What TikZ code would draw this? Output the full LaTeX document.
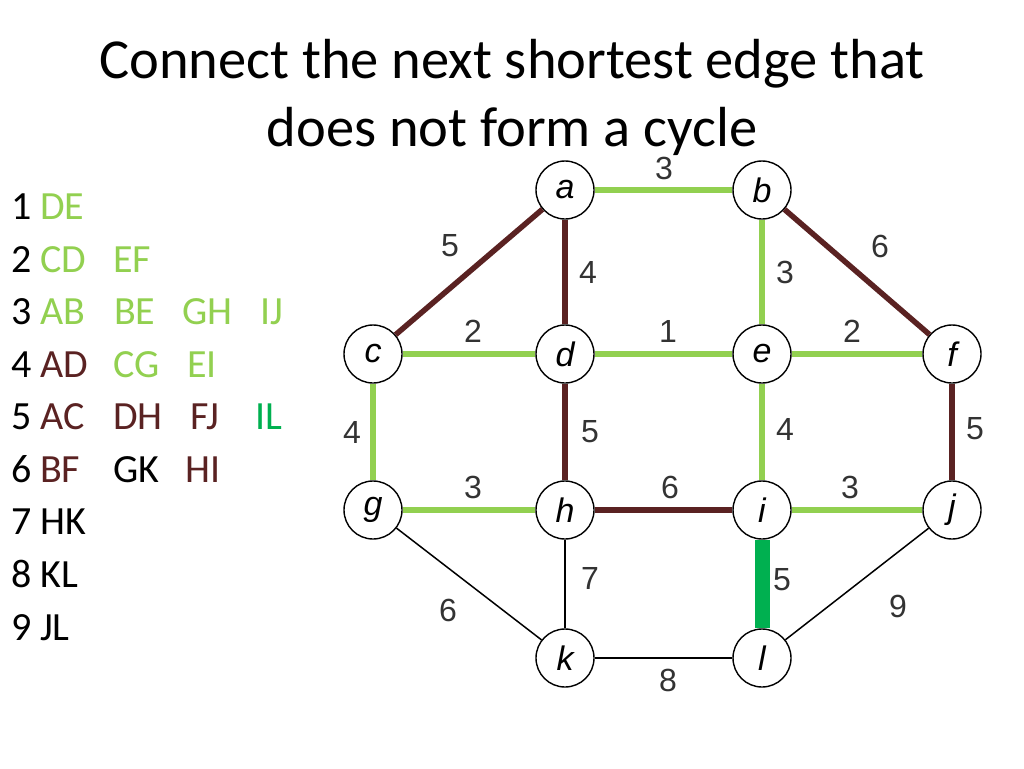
\documentclass[tikz,border=0pt]{standalone}
\usepackage{fontspec}
\setmainfont{Carlito}
\newfontfamily\arialf{Liberation Sans}
\definecolor{lgreen}{HTML}{92D050}
\definecolor{brownc}{HTML}{5A2222}
\definecolor{bgreen}{HTML}{00B050}
\definecolor{labgray}{HTML}{333333}
\begin{document}
\begin{tikzpicture}[x=1pt,y=-1pt,
  vert/.style={circle,draw=black,line width=1.4pt,fill=white,minimum size=58pt,inner sep=0pt,font=\arialf\itshape\fontsize{34}{34}\selectfont},
  elab/.style={font=\arialf\fontsize{32}{32}\selectfont,text=labgray,inner sep=0pt},
  lst/.style={anchor=base west,font=\fontsize{40}{40}\selectfont,inner sep=0pt},
  acc/.style={line width=5.5pt,lgreen},
  rej/.style={line width=5.5pt,brownc},
  cur/.style={line width=15pt,bgreen},
  rest/.style={line width=1.5pt,black}]
\useasboundingbox (0,0) rectangle (1024,768);
\node[font=\fontsize{56.5}{68}\selectfont,align=center,inner sep=0pt] (title) at (512,97) {Connect the next shortest edge that\\does not form a cycle};
% list
\foreach \n/\y in {1/219,2/272,3/324,4/377,5/429,6/482,7/534,8/587,9/640}{
  \node[lst] (n\n) at (11,\y) {\n};
}
\node[lst,text=lgreen] (l1a) at (40,219) {DE};
\node[lst,text=lgreen] (l2a) at (40,272) {CD};
\node[lst,text=lgreen] (l2b) at (113,272) {EF};
\node[lst,text=lgreen] (l3a) at (40,324) {AB};
\node[lst,text=lgreen] (l3b) at (114,324) {BE};
\node[lst,text=lgreen] (l3c) at (182,324) {GH};
\node[lst,text=lgreen] (l3d) at (260,324) {IJ};
\node[lst,text=brownc] (l4a) at (40,377) {AD};
\node[lst,text=lgreen] (l4b) at (113,377) {CG};
\node[lst,text=lgreen] (l4c) at (187,377) {EI};
\node[lst,text=brownc] (l5a) at (40,429) {AC};
\node[lst,text=brownc] (l5b) at (113,429) {DH};
\node[lst,text=brownc] (l5c) at (190,429) {FJ};
\node[lst,text=bgreen] (l5d) at (255,429) {IL};
\node[lst,text=brownc] (l6a) at (40,482) {BF};
\node[lst] (l6b) at (113,482) {GK};
\node[lst,text=brownc] (l6c) at (185,482) {HI};
\node[lst] (l7a) at (40,534) {HK};
\node[lst] (l8a) at (40,587) {KL};
\node[lst] (l9a) at (40,640) {JL};
% vertices
\node[vert] (a) at (565,190) {a};
\node[vert] (b) at (762,190) {b};
\node[vert] (c) at (373,354) {c};
\node[vert] (d) at (565,354) {d};
\node[vert] (e) at (762,354) {e};
\node[vert] (f) at (952,354) {f};
\node[vert] (g) at (373,510) {g};
\node[vert] (h) at (565,510) {h};
\node[vert] (i) at (762,510) {i};
\node[vert] (j) at (952,510) {j};
\node[vert] (k) at (565,658) {k};
\node[vert] (l) at (762,658) {l};
% edges
\draw[acc] (a) -- (b);
\draw[rej] (a) -- (c);
\draw[rej] (a) -- (d);
\draw[acc] (b) -- (e);
\draw[rej] (b) -- (f);
\draw[acc] (c) -- (d);
\draw[acc] (d) -- (e);
\draw[acc] (e) -- (f);
\draw[acc] (c) -- (g);
\draw[rej] (d) -- (h);
\draw[acc] (e) -- (i);
\draw[rej] (f) -- (j);
\draw[acc] (g) -- (h);
\draw[rej] (h) -- (i);
\draw[acc] (i) -- (j);
\draw[cur] (i) -- (l);
\draw[rest] (g) -- (k);
\draw[rest] (h) -- (k);
\draw[rest] (k) -- (l);
\draw[rest] (j) -- (l);
% edge labels
\node[elab] (wab) at (664,168) {3};
\node[elab] (wac) at (450,246) {5};
\node[elab] (wad) at (588,272) {4};
\node[elab] (wbe) at (785,272) {3};
\node[elab] (wbf) at (880,246) {6};
\node[elab] (wcd) at (473,331) {2};
\node[elab] (wde) at (668,331) {1};
\node[elab] (wef) at (852,331) {2};
\node[elab] (wcg) at (352,432) {4};
\node[elab] (wdh) at (590,432) {5};
\node[elab] (wei) at (785,429) {4};
\node[elab] (wfj) at (975,429) {5};
\node[elab] (wgh) at (473,487) {3};
\node[elab] (whi) at (670,487) {6};
\node[elab] (wij) at (850,487) {3};
\node[elab] (wil) at (782,580) {5};
\node[elab] (wgk) at (448,610) {6};
\node[elab] (whk) at (590,578) {7};
\node[elab] (wkl) at (668,680) {8};
\node[elab] (wjl) at (898,606) {9};
\end{tikzpicture}
\end{document}
